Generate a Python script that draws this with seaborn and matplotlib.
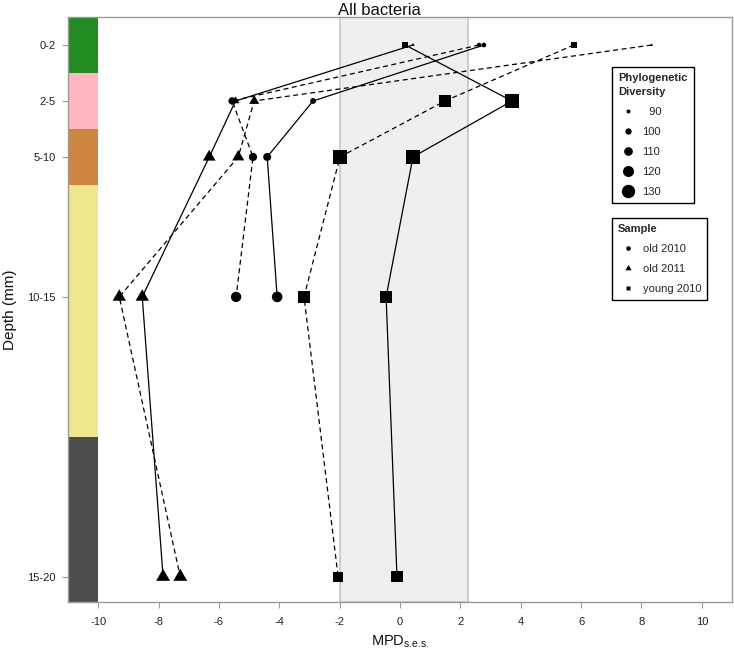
import numpy as np
import pandas as pd
import matplotlib
matplotlib.use("Agg")
import matplotlib.pyplot as plt
import seaborn as sns
from matplotlib.path import Path
from matplotlib.lines import Line2D

# ---------------- data ----------------
depth_labels = ["0-2", "2-5", "5-10", "10-15", "15-20"]
depth_pos = [0.5, 1.5, 2.5, 5.0, 10.0]          # plotting position of each depth slice
band_edges = [0, 1, 2, 3, 7.5, 10.45]
band_colors = ["#228B22", "#FFB6C1", "#CD853F", "#F0E68C", "#4D4D4D"]

# MPD s.e.s. values and phylogenetic diversity (PD) per depth slice
old2010_a_mpd = [2.78, -2.88, -4.40, -4.07]
old2010_a_pd = [93, 98, 107, 118]
old2010_b_mpd = [2.62, -5.56, -4.87, -5.43]
old2010_b_pd = [92, 105, 108, 117]
old2011_a_mpd = [0.43, -5.45, -6.32, -8.54, -7.85]
old2011_a_pd = [84, 98, 113, 115, 117]
old2011_b_mpd = [8.34, -4.83, -5.36, -9.30, -7.28]
old2011_b_pd = [82, 105, 111, 115, 117]
young2010_a_mpd = [0.17, 3.71, 0.43, -0.46, -0.10]
young2010_a_pd = [104, 137, 141, 129, 126]
young2010_b_mpd = [5.76, 1.49, -1.99, -3.18, -2.05]
young2010_b_pd = [103, 132, 140, 132, 122]

null_lo, null_hi = -2.0, 2.26
pd_legend = [90, 100, 110, 120, 130]
samples = ["old 2010", "old 2011", "young 2010"]

series = [
    ("old 2010", "-", old2010_a_mpd, old2010_a_pd),
    ("old 2010", "--", old2010_b_mpd, old2010_b_pd),
    ("old 2011", "-", old2011_a_mpd, old2011_a_pd),
    ("old 2011", "--", old2011_b_mpd, old2011_b_pd),
    ("young 2010", "-", young2010_a_mpd, young2010_a_pd),
    ("young 2010", "--", young2010_b_mpd, young2010_b_pd),
]
rows = []
for i, (samp, ls, mpd, pdv) in enumerate(series):
    for j in range(len(mpd)):
        rows.append(dict(sample=samp, rep=i, ls=ls, mpd=mpd[j],
                         pos=depth_pos[j], pd=pdv[j]))
df = pd.DataFrame(rows)

# ---------------- style ----------------
sns.set_theme(style="ticks")
plt.rcParams["font.family"] = ["Liberation Sans", "DejaVu Sans"]
plt.rcParams["mathtext.fontset"] = "custom"
plt.rcParams["mathtext.rm"] = "Liberation Sans"
plt.rcParams["mathtext.it"] = "Liberation Sans:italic"

DPI = 100
fig = plt.figure(figsize=(7.34, 6.5), dpi=DPI)
ax = fig.add_axes([68 / 734, 1 - 602 / 650, (732 - 68) / 734, (602 - 17) / 650])

PX2PT = 72 / DPI


def diam_px(p):
    return max(4 + 0.235 * (p - 90), 2.0)


tri = Path([(0, 1), (-0.866, -0.5), (0.866, -0.5), (0, 1)],
           [Path.MOVETO, Path.LINETO, Path.LINETO, Path.CLOSEPOLY])
marker_of = {"old 2010": "o", "old 2011": tri, "young 2010": "s"}
shape_k = {"old 2010": 1.0, "old 2011": 1.555, "young 2010": 0.886}

# background: null-model band and depth colour bar
ax.axvspan(null_lo, null_hi, facecolor="#efefef", edgecolor="#c8c8c0", lw=1.2, zorder=0)
for k, c in enumerate(band_colors):
    ax.fill_betweenx([band_edges[k], band_edges[k + 1]], -11, -10,
                     color=c, lw=0, zorder=1)

# lines
for i, (samp, ls, mpd, pdv) in enumerate(series):
    sub = df[df.rep == i]
    sns.lineplot(data=sub, x="mpd", y="pos", sort=False, estimator=None,
                 color="black", linewidth=0.9,
                 linestyle="-" if ls == "-" else (0, (4.0, 2.8)),
                 ax=ax, legend=False, zorder=2)

# points
for samp in samples:
    sub = df[df["sample"] == samp]
    sizes = {p: (diam_px(p) * shape_k[samp] * PX2PT) ** 2 for p in sub["pd"].unique()}
    sns.scatterplot(data=sub, x="mpd", y="pos", size="pd", sizes=sizes,
                    marker=marker_of[samp], color="black", linewidth=0,
                    legend=False, ax=ax, zorder=3)

# axes
ax.set_xlim(-11, 11)
ax.set_ylim(10.45, 0)
ax.set_xticks(np.arange(-10, 11, 2))
ax.set_xticklabels([str(v) for v in range(-10, 11, 2)])
ax.set_yticks(depth_pos)
ax.set_yticklabels(depth_labels)
for sp in ax.spines.values():
    sp.set_visible(True)
    sp.set_color("#9a9a9a")
    sp.set_linewidth(1.0)
ax.tick_params(axis="both", colors="#9a9a9a", labelcolor="#222222",
               length=4, width=0.8, labelsize=8, pad=5)
ax.tick_params(axis="x", pad=7)
fig.text(379 / 734, 1 - 15 / 650, "All bacteria", fontsize=12, color="#111111",
         ha="center", va="baseline")
ax.set_xlabel(r"MPD$_\mathrm{s.\!e.\!s.}$", fontsize=10.5, color="#111111")
ax.set_ylabel("Depth (mm)", fontsize=11, color="#111111")
ax.yaxis.set_label_coords(-0.077, 0.5)
ax.xaxis.set_label_coords(0.5, -0.054)

# legends
common = dict(fontsize=8, title_fontproperties={"weight": "bold", "size": 8},
              frameon=True, fancybox=False, framealpha=1, edgecolor="black",
              borderpad=0.55, handlelength=1.7, handletextpad=0.5,
              labelspacing=0.9, alignment="left", borderaxespad=0,
              loc="upper left", bbox_transform=fig.transFigure)
h1 = [Line2D([], [], ls="none", marker="o", color="black", mec="none",
             markersize=diam_px(p) * PX2PT) for p in pd_legend]
lab1 = [("  " if p < 100 else "") + str(p) for p in pd_legend]
leg1 = ax.legend(h1, lab1, title="Phylogenetic\nDiversity",
                 bbox_to_anchor=(612 / 734, 1 - 67 / 650), **common)
leg1.get_title().set_linespacing(1.5)
leg1.get_frame().set_linewidth(1.0)
ax.add_artist(leg1)

h2 = [Line2D([], [], ls="none", marker=marker_of[s], color="black", mec="none",
             markersize=4.6 * shape_k[s] * PX2PT) for s in samples]
leg2 = ax.legend(h2, samples, title="Sample",
                 bbox_to_anchor=(612 / 734, 1 - 218 / 650), **common)
leg2.get_frame().set_linewidth(1.0)

fig.savefig("out.png", dpi=DPI)
